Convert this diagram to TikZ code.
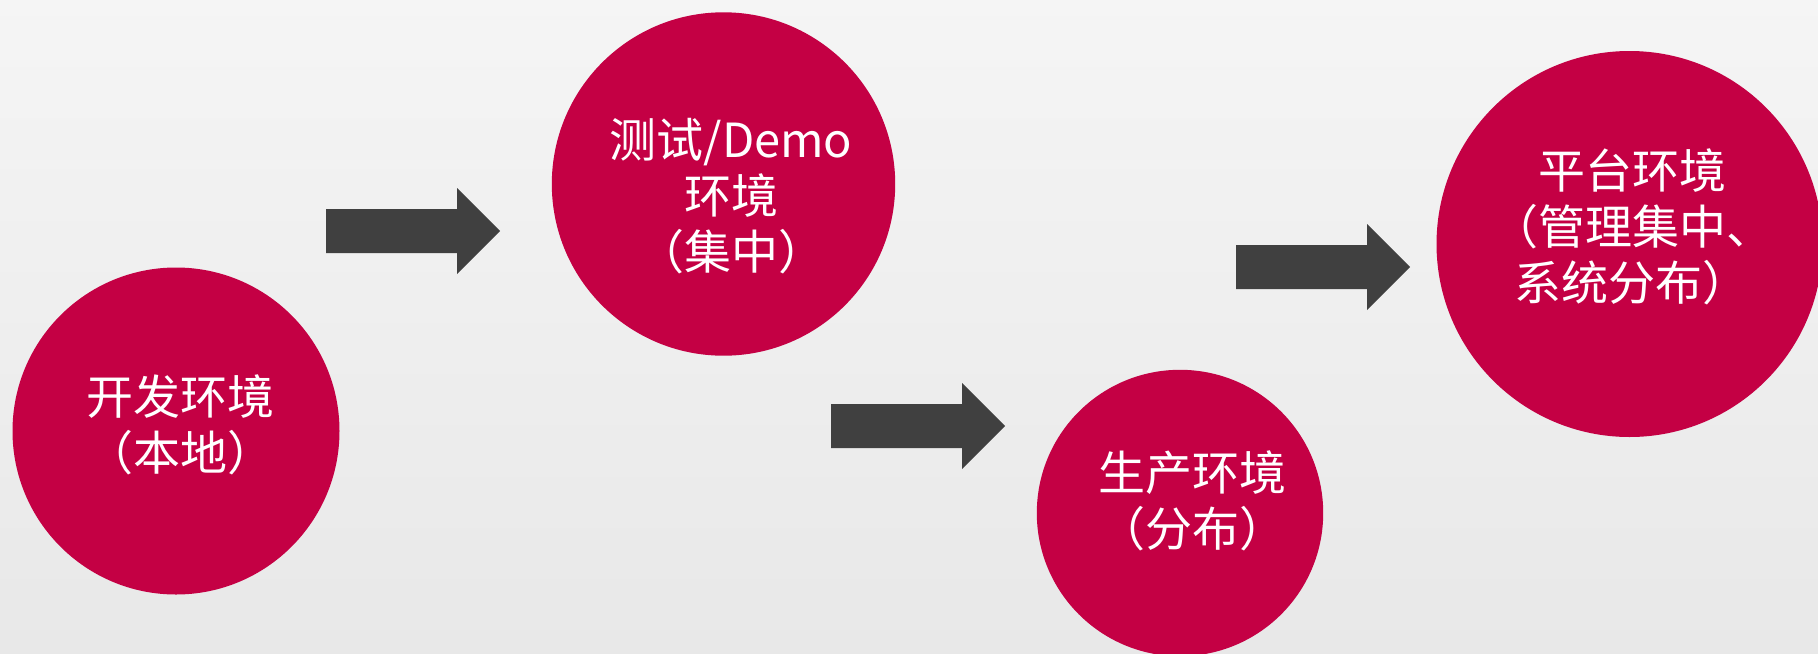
\documentclass[tikz,border=0pt]{standalone}
\usepackage{fontspec}
\newfontfamily\cjk{Noto Sans CJK SC}
\usepackage{tikz}
\usetikzlibrary{positioning,shapes,backgrounds}

\definecolor{envred}{HTML}{C40044}
\definecolor{arrowgray}{HTML}{404040}

\tikzset{
	envcircle/.style={circle,fill=envred,inner sep=0pt},
	envtext/.style={text=white,align=center,inner sep=0pt,
		font=\cjk\fontsize{23.5}{28}\selectfont},
	blockarrow/.style={fill=arrowgray}
}

\begin{document}
\begin{tikzpicture}[x=0.5pt,y=-0.5pt]

	\useasboundingbox (0,0) rectangle (1818,653);
	\fill[top color=black!4,bottom color=black!9] (0,0) rectangle (1818,653);
	\clip (0,0) rectangle (1818,653);

	\node[envcircle,minimum size=163.5pt] (dev) at (176,431) {};
	\node[envcircle,minimum size=171.7pt] (test) at (723.5,184) {};
	\node[envcircle,minimum size=143.2pt] (prod) at (1180,513) {};
	\node[envcircle,minimum size=193pt] (plat) at (1629.5,244) {};

	\node[envtext] (devtxt) at (180,425) {开发环境\\（本地）};
	\node[envtext] (testtxt) at (731,196) {测试/Demo\\环境\\（集中）};
	\node[envtext] (prodtxt) at (1192,501) {生产环境\\（分布）};
	\node[envtext] (plattxt) at (1632,227) {平台环境\\（管理集中、\\系统分布）};

	%arrows between the stages
	\fill[blockarrow] (326,209) -- (457,209) -- (457,188) -- (500,231)
		-- (457,274) -- (457,253) -- (326,253) -- cycle;
	\fill[blockarrow] (831,404) -- (962,404) -- (962,383) -- (1005,426)
		-- (962,469) -- (962,448) -- (831,448) -- cycle;
	\fill[blockarrow] (1236,245) -- (1367,245) -- (1367,224) -- (1410,267)
		-- (1367,310) -- (1367,289) -- (1236,289) -- cycle;

\end{tikzpicture}
\end{document}
